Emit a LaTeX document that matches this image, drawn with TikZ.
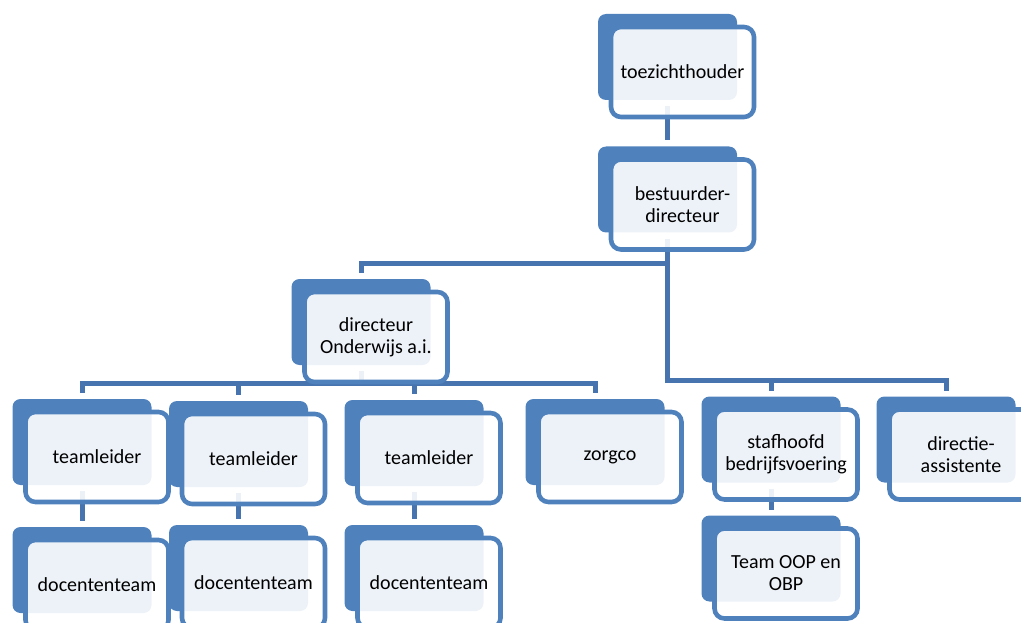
\documentclass[tikz,border=0pt]{standalone}
\usepackage{fontspec}
\setmainfont{Carlito}
\usetikzlibrary{backgrounds}
\definecolor{accent}{HTML}{4F81BD}
\definecolor{conncol}{HTML}{4774AF}
\tikzset{
  backbox/.style={fill=accent, draw=none, rounded corners=8pt, minimum width=139pt, minimum height=86pt, inner sep=0pt, outer sep=0pt},
  frontbox/.style={draw=accent, line width=4.6pt, fill=white, fill opacity=0.9, draw opacity=1, text opacity=1, rounded corners=10pt, minimum width=143pt, minimum height=90pt, align=center, inner sep=0pt, outer sep=0pt, font=\fontsize{20}{22}\selectfont, text=black},
  connector/.style={draw=conncol, line width=5pt},
  gapa/.style={shorten <=6pt},
  gapb/.style={shorten >=6pt}
}
\begin{document}
\begin{tikzpicture}[x=1pt,y=-1pt]
\useasboundingbox (0,0) rectangle (1021,623);
\clip (0,0) rectangle (1021,623);
% back boxes
\node[backbox] (toeB) at (667.5,57) {};
\node[backbox] (bestB) at (667.5,189.5) {};
\node[backbox] (dirB) at (361,322) {};
\node[backbox] (tl1B) at (82,442) {};
\node[backbox] (tl2B) at (238.5,444) {};
\node[backbox] (tl3B) at (414,443) {};
\node[backbox] (zorgB) at (595,442) {};
\node[backbox] (stafB) at (771,439.5) {};
\node[backbox] (dirassB) at (946,439.5) {};
\node[backbox] (doc1B) at (82,570) {};
\node[backbox] (doc2B) at (238.5,568) {};
\node[backbox] (doc3B) at (414,568) {};
\node[backbox] (teamB) at (771,558.5) {};
% front boxes
\node[frontbox] (toe) at ([shift={(15,15)}]toeB.center) {toezichthouder};
\node[frontbox] (best) at ([shift={(15,15)}]bestB.center) {bestuurder-\\directeur};
\node[frontbox] (dir) at ([shift={(15,15)}]dirB.center) {directeur\\Onderwijs a.i.};
\node[frontbox] (tl1) at ([shift={(15,15)}]tl1B.center) {teamleider};
\node[frontbox] (tl2) at ([shift={(15,15)}]tl2B.center) {teamleider};
\node[frontbox] (tl3) at ([shift={(15,15)}]tl3B.center) {teamleider};
\node[frontbox] (zorg) at ([shift={(15,15)}]zorgB.center) {zorgco};
\node[frontbox] (staf) at ([shift={(15,15)}]stafB.center) {stafhoofd\\bedrijfsvoering};
\node[frontbox] (dirass) at ([shift={(15,15)}]dirassB.center) {directie-\\assistente};
\node[frontbox] (doc1) at ([shift={(15,15)}]doc1B.center) {docententeam};
\node[frontbox] (doc2) at ([shift={(15,15)}]doc2B.center) {docententeam};
\node[frontbox] (doc3) at ([shift={(15,15)}]doc3B.center) {docententeam};
\node[frontbox] (team) at ([shift={(15,15)}]teamB.center) {Team OOP en\\OBP};
% connectors
\begin{scope}[on background layer]
\coordinate (j1) at (667.5,263);
\coordinate (j2) at (667.5,380);
\coordinate (j3) at (361,383);
\draw[connector, gapa, gapb] (toeB.south) -- (bestB.north);
\draw[connector, gapa, gapb] (bestB.south) -- (j2) -| (dirassB.north);
\draw[connector, gapb] (j1) -| (dirB.north);
\draw[connector, gapb] (j2 -| stafB.north) -- (stafB.north);
\draw[connector, gapa] (dirB.south) -- (j3);
\draw[connector, gapa, gapb] (tl1B.north) |- (zorgB.north |- j3) -- (zorgB.north);
\draw[connector, gapb] (tl2B.north |- j3) -- (tl2B.north);
\draw[connector, gapb] (tl3B.north |- j3) -- (tl3B.north);
\draw[connector, gapa, gapb] (tl1B.south) -- (doc1B.north);
\draw[connector, gapa, gapb] (tl2B.south) -- (doc2B.north);
\draw[connector, gapa, gapb] (tl3B.south) -- (doc3B.north);
\draw[connector, gapa, gapb] (stafB.south) -- (teamB.north);
\end{scope}
\end{tikzpicture}
\end{document}
